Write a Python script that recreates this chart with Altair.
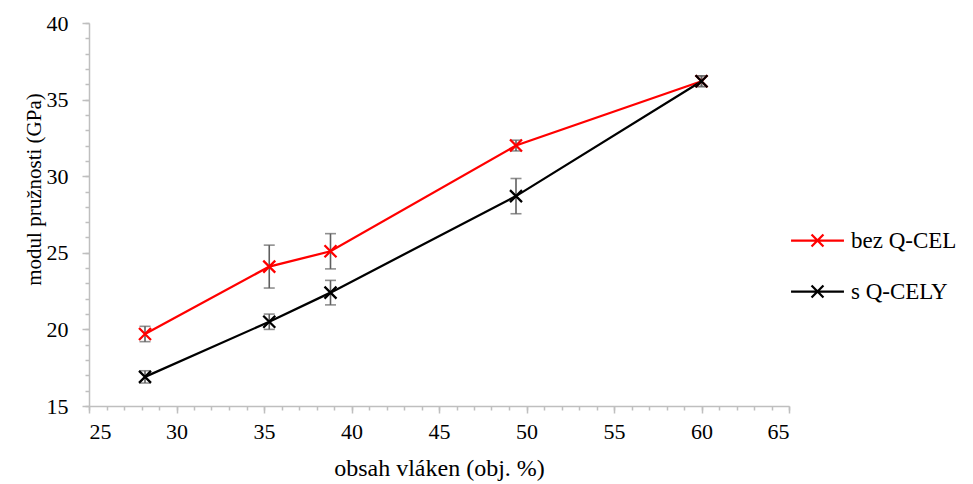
import altair as alt
import pandas as pd

x_vals = [28.2, 35.3, 38.8, 49.4, 60.0]
bez_vals = [19.7, 24.1, 25.1, 32.0, 36.2]
bez_err = [0.5, 1.4, 1.15, 0.35, 0.35]
s_vals = [16.9, 20.5, 22.4, 28.7, 36.2]
s_err = [0.4, 0.5, 0.8, 1.15, 0.35]
series = ["bez Q-CEL", "s Q-CELY"]
colors = ["#ff0000", "#000000"]
x_major = [25, 30, 35, 40, 45, 50, 55, 60, 65]
y_major = [15, 20, 25, 30, 35, 40]
x_minor = list(range(25, 66))
y_minor = list(range(15, 41))

rows = []
for name, ys, es in [(series[0], bez_vals, bez_err), (series[1], s_vals, s_err)]:
    for xv, yv, ev in zip(x_vals, ys, es):
        rows.append({"series": name, "x": xv, "y": yv, "lo": yv - ev, "hi": yv + ev})
df = pd.DataFrame(rows)

FONT = "Liberation Serif"
AX = "#bfbfbf"
GRAY = "#5f5f5f"
X_PATH = "M-1,-1L1,1M-1,1L1,-1"
LEG_PATH = "M-2,0L2,0M-0.45,-0.45L0.45,0.45M-0.45,0.45L0.45,-0.45"

xscale = alt.Scale(domain=[25, 65], nice=False, zero=False)
yscale = alt.Scale(domain=[15, 40], nice=False, zero=False)
cscale = alt.Scale(domain=series, range=colors)

base = alt.Chart(df)

minor = base.mark_point(opacity=0).encode(
    x=alt.X("x:Q", scale=xscale, axis=alt.Axis(values=x_minor, labels=False, tickSize=4, domain=False,
                                                title=None, orient="bottom", grid=False, tickColor=AX, tickWidth=1.5)),
    y=alt.Y("y:Q", scale=yscale, axis=alt.Axis(values=y_minor, labels=False, tickSize=4, domain=False,
                                                title=None, orient="left", grid=False, tickColor=AX, tickWidth=1.5)),
)

lines = base.mark_line(strokeWidth=2.25).encode(
    x=alt.X("x:Q", scale=xscale, axis=alt.Axis(values=x_major, tickSize=7, domainColor=AX, domainWidth=1.5,
                                                tickColor=AX, tickWidth=1.5, grid=False, orient="bottom",
                                                labelFont=FONT, labelFontSize=22, labelColor="#000",
                                                labelPadding=8, title="obsah vláken (obj. %)",
                                                titleFont=FONT, titleFontSize=24, titleFontWeight="normal",
                                                titleColor="#000", titlePadding=14)),
    y=alt.Y("y:Q", scale=yscale, axis=alt.Axis(values=y_major, tickSize=7, domainColor=AX, domainWidth=1.5,
                                                tickColor=AX, tickWidth=1.5, grid=False, orient="left",
                                                labelFont=FONT, labelFontSize=22, labelColor="#000",
                                                labelPadding=14, title="modul pružnosti (GPa)",
                                                titleFont=FONT, titleFontSize=21, titleFontWeight="normal",
                                                titleColor="#000", titleX=-45, titleY=166)),
    color=alt.Color("series:N", scale=cscale,
                    legend=alt.Legend(title=None, orient="none", legendX=714, legendY=203,
                                      symbolType=LEG_PATH, symbolSize=700, symbolStrokeWidth=2.25,
                                      labelFont=FONT, labelFontSize=23, labelColor="#000",
                                      labelOffset=19, rowPadding=24, padding=0)),
)

errbars = base.mark_rule(color=GRAY, strokeWidth=1.6).encode(
    x=alt.X("x:Q", axis=None), y=alt.Y("lo:Q", axis=None), y2="hi:Q")
cap_lo = base.mark_tick(color=GRAY, orient="horizontal", size=11, thickness=1.6).encode(
    x=alt.X("x:Q", axis=None), y=alt.Y("lo:Q", axis=None))
cap_hi = base.mark_tick(color=GRAY, orient="horizontal", size=11, thickness=1.6).encode(
    x=alt.X("x:Q", axis=None), y=alt.Y("hi:Q", axis=None))

points = base.mark_point(shape=X_PATH, size=144, strokeWidth=2.25, filled=False, opacity=1).encode(
    x=alt.X("x:Q", axis=None), y=alt.Y("y:Q", axis=None),
    color=alt.Color("series:N", scale=cscale, legend=None))

chart = alt.layer(minor, lines, errbars, cap_lo, cap_hi, points).resolve_axis(
    x="independent", y="independent"
).properties(
    width=700, height=383,
    background="white",
    autosize=alt.AutoSizeParams(type="none"),
    padding={"left": 81, "top": 15, "right": 176, "bottom": 90},
).configure_view(stroke=None, strokeWidth=0)

chart.save("out.html", embed_options={"renderer": "svg", "actions": False})
